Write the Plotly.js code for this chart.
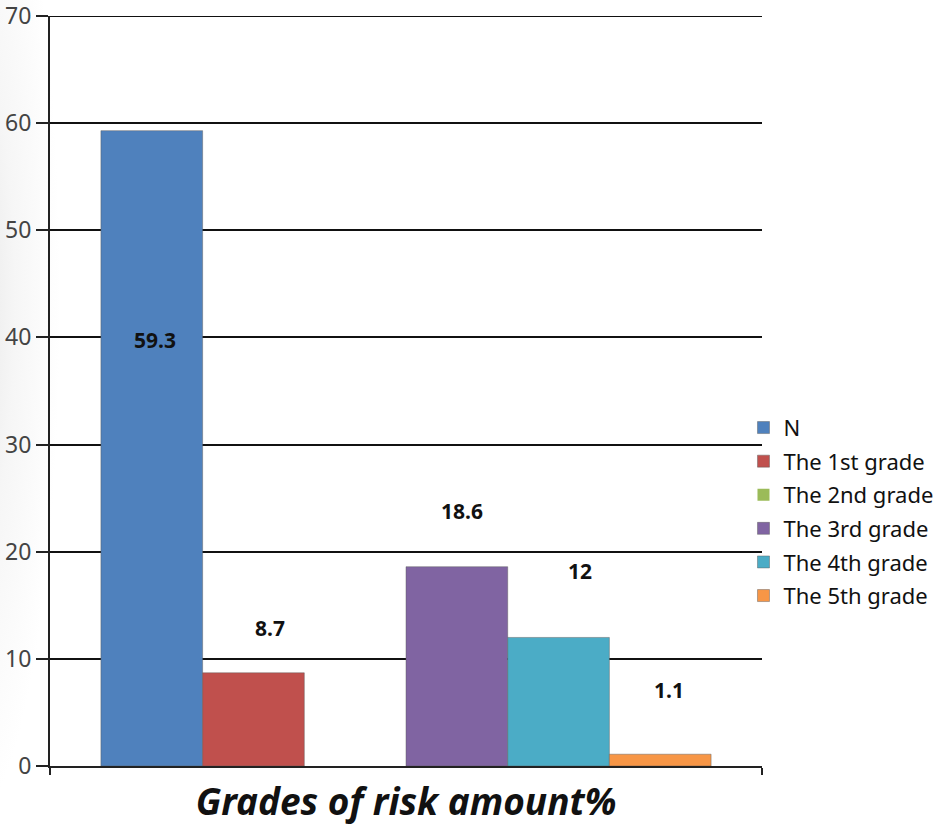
<!DOCTYPE html>
<html>
<head>
<meta charset="utf-8">
<script src="https://cdn.plot.ly/plotly-3.0.1.min.js"></script>
<style>
html,body{margin:0;padding:0;}
body{background:#fff;}
#wrap{width:943px;height:826px;background:radial-gradient(ellipse 90px 520px at -30px 300px, #e6e6e6 0%, #f6f6f6 50%, #ffffff 100%);}
#chart{width:943px;height:826px;}
</style>
</head>
<body>
<div id="wrap"><div id="chart"></div></div>
<script>
const category = ['Grades of risk amount%'];
const seriesNames = ['N', 'The 1st grade', 'The 2nd grade', 'The 3rd grade', 'The 4th grade', 'The 5th grade'];
const seriesValues = [59.3, 8.7, 0, 18.6, 12, 1.1];
const seriesColors = ['#4F81BD', '#C0504D', '#9BBB59', '#8064A2', '#4BACC6', '#F79646'];
const labelText = ['59.3', '8.7', '', '18.6', '12', '1.1'];
const yTicks = [0, 10, 20, 30, 40, 50, 60, 70];
const yMax = yTicks[yTicks.length - 1];

// label placement (pixel shifts relative to each bar top / group centre)
const labelXShift = [-251, -136, 0, 56, 174, 263];
const labelYShift = [-209, 45, 0, 56, 66, 64];

const FONT = 'Noto Sans, Open Sans, Liberation Sans, sans-serif';

const traces = seriesNames.map((name, i) => ({
  type: 'bar',
  name: name,
  legendgroup: 'g' + i,
  x: category,
  y: [seriesValues[i]],
  marker: {
    color: seriesColors[i],
    line: {color: 'rgba(90,90,90,0.45)', width: seriesValues[i] > 0 ? 1 : 0}
  },
  hoverinfo: 'none'
}));

const annotations = [];
seriesValues.forEach((v, i) => {
  if (!labelText[i]) return;
  annotations.push({
    x: category[0], xref: 'x', y: v, yref: 'y',
    text: '<b>' + labelText[i] + '</b>',
    showarrow: false,
    xshift: labelXShift[i], yshift: labelYShift[i],
    font: {family: FONT, size: 21, color: '#111'}
  });
});

const layout = {
  width: 943, height: 826,
  paper_bgcolor: 'rgba(0,0,0,0)', plot_bgcolor: 'rgba(0,0,0,0)',
  margin: {l: 50, r: 181, t: 16, b: 60, pad: 0, autoexpand: false},
  barmode: 'group',
  bargap: 0.143,
  bargroupgap: 0,
  showlegend: true,
  legend: {
    x: 0.974, xanchor: 'left', y: 0.339, yanchor: 'middle',
    font: {family: FONT, size: 22, color: '#111'},
    itemwidth: 30, tracegroupgap: 2, traceorder: 'grouped',
    bgcolor: 'rgba(0,0,0,0)'
  },
  xaxis: {
    type: 'category',
    showticklabels: false,
    showline: true, linecolor: '#222', linewidth: 2,
    ticks: 'outside', tickson: 'boundaries', ticklen: 7, tickwidth: 2, tickcolor: '#222',
    showgrid: false, zeroline: false, automargin: false,
    title: {text: '<b><i>Grades of risk amount%</i></b>', font: {family: FONT, size: 37, color: '#111'}, standoff: 22}
  },
  yaxis: {
    range: [0, yMax],
    tickvals: yTicks,
    ticktext: yTicks.map(String),
    showline: true, linecolor: '#222', linewidth: 2,
    ticks: 'outside', ticklen: 12, tickwidth: 2, tickcolor: '#222',
    showgrid: true, gridcolor: '#111', gridwidth: 2,
    zeroline: false, automargin: false,
    ticklabeloverflow: 'allow',
    tickfont: {family: FONT, size: 23, color: '#444'}
  },
  shapes: [{
    type: 'line', xref: 'paper', yref: 'y',
    x0: 0, x1: 1, y0: yMax, y1: yMax,
    line: {color: '#111', width: 2}, layer: 'below'
  }],
  annotations: annotations
};

Plotly.newPlot('chart', traces, layout, {displayModeBar: false, staticPlot: true});
</script>
</body>
</html>
